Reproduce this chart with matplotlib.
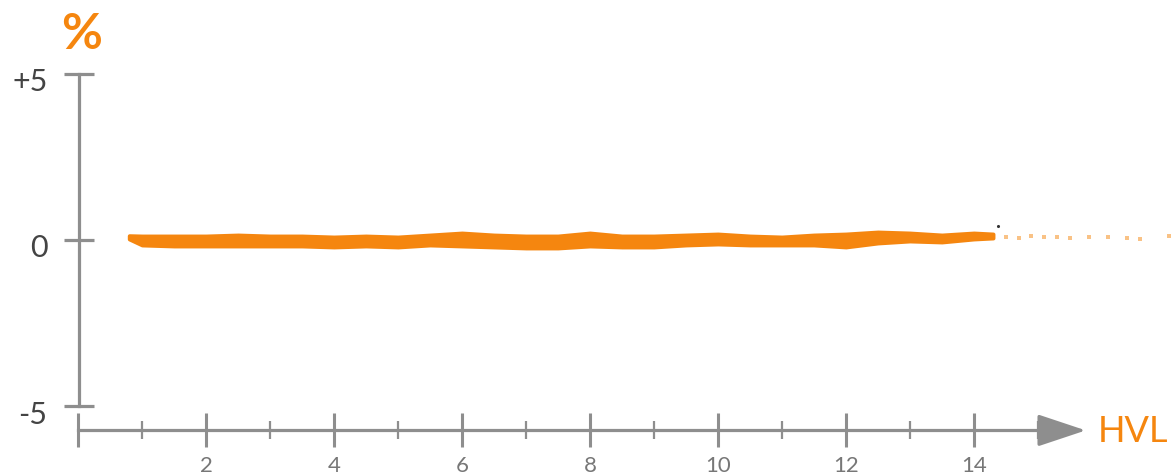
import matplotlib.pyplot as plt
from matplotlib.transforms import ScaledTranslation

orange = '#F5860F'
grey = '#8E8E8E'

# band of the measured deviation (% vs HVL), upper and lower edges
band_x = [0.8, 1.0, 1.5, 2.0, 2.5, 3.0, 3.5, 4.0, 4.5, 5.0, 5.5, 6.0, 6.5,
          7.0, 7.5, 8.0, 8.5, 9.0, 9.5, 10.0, 10.5, 11.0, 11.5, 12.0, 12.5,
          13.0, 13.5, 14.0, 14.3]
band_top = [0.13, 0.12, 0.12, 0.12, 0.15, 0.12, 0.12, 0.09, 0.12, 0.09, 0.15,
            0.21, 0.15, 0.12, 0.12, 0.21, 0.12, 0.12, 0.15, 0.18, 0.12, 0.09,
            0.15, 0.18, 0.24, 0.21, 0.15, 0.21, 0.18]
band_bot = [0.03, -0.15, -0.18, -0.18, -0.18, -0.18, -0.18, -0.21, -0.18,
            -0.21, -0.15, -0.18, -0.21, -0.24, -0.24, -0.18, -0.21, -0.21,
            -0.15, -0.12, -0.15, -0.15, -0.15, -0.21, -0.09, -0.03, -0.06,
            0.03, 0.06]

# scattered points at the high end
frag_x = [14.5, 14.7, 14.9, 15.1, 15.3, 15.5, 15.8, 16.1, 16.4, 16.6, 17.05]
frag_y = [0.10, 0.05, 0.12, 0.08, 0.10, 0.05, 0.10, 0.08, 0.05, 0.04, 0.12]

x_ticks = list(range(0, 16))
y_ticks = [-5, 0, 5]
y_labels = ['-5', '0', '+5']

fig = plt.figure(figsize=(11.76, 4.77), dpi=100)
ax = fig.add_axes([0, 0, 1, 1])
ax.set_xlim(-1.22, 17.16)
ax.set_ylim(-7.09, 7.24)

ax.fill_between(band_x, band_bot, band_top, color=orange, lw=2.8,
                edgecolor=orange)
ax.scatter(frag_x, frag_y, s=12, marker='s', color=orange, alpha=0.5,
           lw=0)
ax.scatter([14.38], [0.42], s=5, color='#333333', lw=0)

for s in ['top', 'right']:
    ax.spines[s].set_visible(False)

ax.spines['left'].set_position(('data', 0.02))
ax.spines['left'].set_bounds(-5, 5)
ax.spines['left'].set_color(grey)
ax.spines['left'].set_linewidth(2.3)

yb = -5.72
ax.spines['bottom'].set_position(('data', yb))
ax.spines['bottom'].set_bounds(0, 15.2)
ax.spines['bottom'].set_color(grey)
ax.spines['bottom'].set_linewidth(2.3)

ax.set_yticks(y_ticks)
ax.set_yticklabels(y_labels, fontsize=22, color='#444444', family='Lato')
ax.tick_params(axis='y', direction='inout', length=22, width=2.3,
               color=grey, pad=12)
for lab in ax.get_yticklabels():
    lab.set_transform(lab.get_transform() +
                      ScaledTranslation(0, -5 / 100, fig.dpi_scale_trans))

ax.set_xticks([t for t in x_ticks if t % 2 == 0])
ax.set_xticklabels([str(t) if t else '' for t in x_ticks if t % 2 == 0],
                   fontsize=16, color='#777777', family='Lato')
ax.set_xticks([t for t in x_ticks if t % 2 == 1], minor=True)
ax.tick_params(axis='x', which='major', direction='inout', length=24,
               width=2.2, color=grey, pad=6)
ax.tick_params(axis='x', which='minor', direction='inout', length=13,
               width=1.6, color=grey)

ax.annotate('', xy=(15.75, yb), xytext=(15.0, yb),
            arrowprops=dict(arrowstyle='-|>,head_length=1.5,head_width=0.5',
                            mutation_scale=20, color=grey, lw=2.3,
                            shrinkA=0, shrinkB=0))

ax.text(0.06, 6.2, '%', color=orange, fontsize=36, fontweight='bold',
        family='Lato', ha='center', va='center')
ax.text(15.93, yb, 'HVL', color=orange, fontsize=26, family='Lato',
        ha='left', va='center')

fig.savefig('out.png', dpi=100)
